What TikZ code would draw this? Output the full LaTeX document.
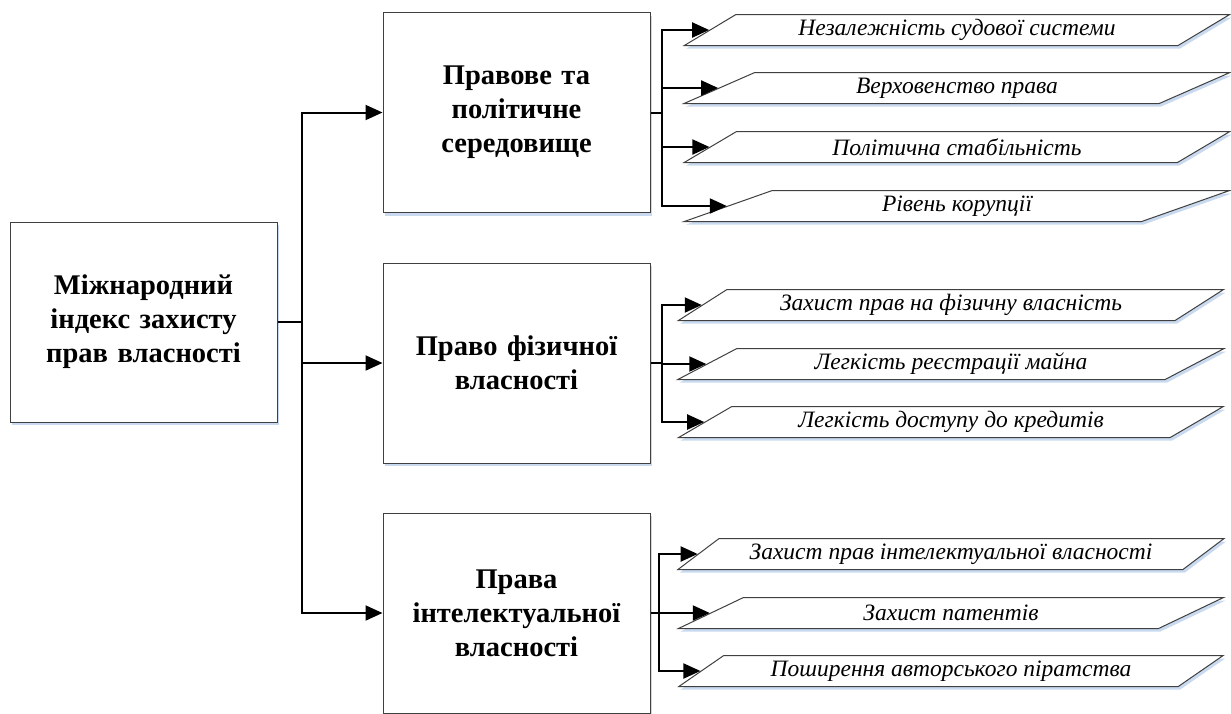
\documentclass[tikz,border=0pt]{standalone}
\usepackage{fontspec}
\setmainfont{Liberation Serif}
\usetikzlibrary{arrows.meta,shapes.geometric,shadows}
\definecolor{shad}{HTML}{C9DAF0}
\tikzset{
  wire/.style={line width=2pt, line join=miter},
  conn/.style={line width=2pt, -{Triangle[length=17pt,width=15pt]}},
  mainbox/.style={draw=black!75, line width=1pt, fill=white, minimum width=267pt, minimum height=200pt,
    inner sep=0pt, align=center, text width=255pt, font=\bfseries\fontsize{28.5}{34}\selectfont,
    drop shadow={shadow xshift=2pt, shadow yshift=-3pt, fill=shad, opacity=1}},
  para/.style={trapezium, trapezium left angle=30, trapezium right angle=150, trapezium stretches=true,
    draw=black!75, line width=1pt, fill=white, minimum width=547pt, minimum height=31pt, inner sep=0pt,
    font=\itshape\fontsize{23.5}{26}\selectfont,
    drop shadow={shadow xshift=2pt, shadow yshift=-3pt, fill=shad, opacity=1}},
}
\begin{document}
\begin{tikzpicture}[x=1pt,y=1pt]
\useasboundingbox (0,0) rectangle (1231,-713);
\begin{scope}
\clip (0,0) rectangle (1231,-713);
\node[mainbox] (root) at (143.5,-322) {Міжнародний\\індекс захисту\\прав власності};
\node[mainbox] (b1) at (516.5,-112.5) {Правове та\\політичне\\середовище};
\node[mainbox] (b2) at (516.5,-363) {Право фізичної\\власності};
\node[mainbox] (b3) at (516.5,-613) {Права\\інтелектуальної\\власності};

\node[para] (p11) at (957,-30) {Незалежність судової системи};
\node[para] (p12) at (957,-88) {Верховенство права};
\node[para] (p13) at (957,-147) {Політична стабільність};
\node[para] (p14) at (957,-206) {Рівень корупції};

\node[para] (p21) at (951,-305) {Захист прав на фізичну власність};
\node[para] (p22) at (951,-364) {Легкість реєстрації майна};
\node[para] (p23) at (951,-422) {Легкість доступу до кредитів};

\node[para] (p31) at (951,-554) {Захист прав інтелектуальної власності};
\node[para] (p32) at (951,-613) {Захист патентів};
\node[para] (p33) at (951,-671) {Поширення авторського піратства};

\coordinate (m) at (302,-322);
\draw[wire] (root.east) -- (m);
\draw[conn] (m) |- (b1.west);
\draw[conn] (m) |- (b2.west);
\draw[conn] (m) |- (b3.west);

\coordinate (j1) at (662,-112.5);
\draw[wire] (b1.east) -- (j1);
\foreach \p in {p11,p12,p13,p14} \draw[conn] (j1) |- (\p.west);

\coordinate (j2) at (662,-363);
\draw[wire] (b2.east) -- (j2);
\foreach \p in {p21,p22,p23} \draw[conn] (j2) |- (\p.west);

\coordinate (j3) at (659,-613);
\draw[wire] (b3.east) -- (j3);
\foreach \p in {p31,p32,p33} \draw[conn] (j3) |- (\p.west);
\end{scope}
\end{tikzpicture}
\end{document}
